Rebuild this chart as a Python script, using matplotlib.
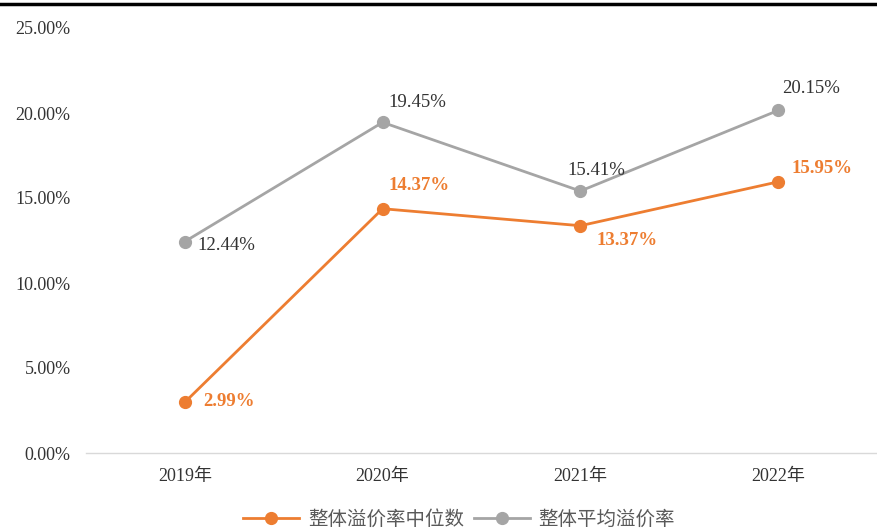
import matplotlib
matplotlib.use("Agg")
import matplotlib.pyplot as plt
from matplotlib.lines import Line2D
from matplotlib.ticker import FuncFormatter

plt.rcParams['font.family'] = ['Liberation Serif', 'Noto Sans CJK SC', 'DejaVu Sans']

categories = ['2019年', '2020年', '2021年', '2022年']
median_premium = [2.99, 14.37, 13.37, 15.95]
mean_premium = [12.44, 19.45, 15.41, 20.15]
yticks = [0, 5, 10, 15, 20, 25]
series_names = ['整体溢价率中位数', '整体平均溢价率']

orange = '#ED7D31'
gray = '#A5A5A5'

fig = plt.figure(figsize=(8.77, 5.30), dpi=100)
ax = fig.add_axes([86/877, 1-453/530, 1-86/877, (453-28)/530])

x = list(range(len(categories)))
l1, = ax.plot(x, median_premium, color=orange, lw=2.0, marker='o', ms=8.5, zorder=3)
l2, = ax.plot(x, mean_premium, color=gray, lw=2.0, marker='o', ms=8.5, zorder=2)

ax.set_xlim(-0.5, 3.5)
ax.set_ylim(0, 25)
ax.set_yticks(yticks)
ax.yaxis.set_major_formatter(FuncFormatter(lambda v, p: f'{v:.2f}%'))
ax.set_xticks(x)
ax.set_xticklabels(categories)
for s in ['top', 'right', 'left']:
    ax.spines[s].set_visible(False)
ax.spines['bottom'].set_color('#D9D9D9')
ax.spines['bottom'].set_linewidth(1.0)
ax.tick_params(axis='both', length=0, labelsize=13, colors='#333333')
ax.tick_params(axis='y', pad=11)
ax.tick_params(axis='x', pad=11)

px = 0.72
gray_offsets = [(13, -4, 'left'), (6, 20, 'left'), (16, 21, 'center'), (4, 22, 'left')]
orange_offsets = [(18, 1, 'left'), (6, 23, 'left'), (16, -15, 'left'), (13, 13, 'left')]
for i, v in enumerate(mean_premium):
    dx, dy, ha = gray_offsets[i]
    ax.annotate(f'{v:.2f}%', (i, v), xytext=(dx*px, dy*px), textcoords='offset points',
                ha=ha, va='center', fontsize=13.5, color='#333333')
for i, v in enumerate(median_premium):
    dx, dy, ha = orange_offsets[i]
    ax.annotate(f'{v:.2f}%', (i, v), xytext=(dx*px, dy*px), textcoords='offset points',
                ha=ha, va='center', fontsize=13.5, color=orange, fontweight='bold')

fig.legend([l1, l2], series_names, loc='center', bbox_to_anchor=(459/877, 1-519/530),
           ncol=2, frameon=False, fontsize=14, handlelength=2.9, columnspacing=0.5,
           handletextpad=0.45, labelcolor='#595959')

fig.add_artist(Line2D([0, 1], [1-4/530, 1-4/530], color='black', lw=2.5, transform=fig.transFigure))

fig.savefig('out.png', dpi=100)
